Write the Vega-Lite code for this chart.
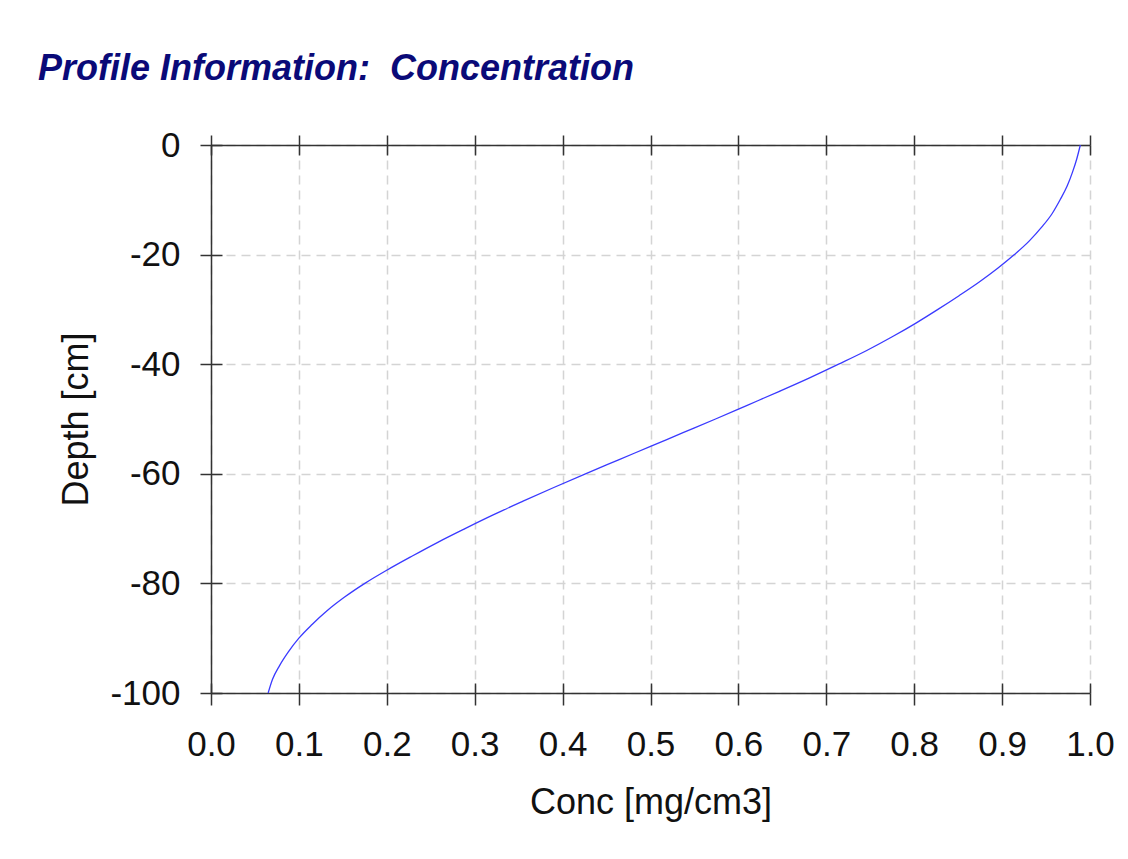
{
  "$schema": "https://vega.github.io/schema/vega-lite/v6.json",
  "autosize": "none",
  "width": 879,
  "height": 548,
  "padding": {"left": 211, "top": 145, "right": 38, "bottom": 166},
  "background": "white",
  "title": {
    "text": "Profile Information:\u00a0\u00a0Concentration",
    "anchor": "start",
    "frame": "group",
    "orient": "top",
    "dx": -173,
    "offset": 12,
    "baseline": "alphabetic",
    "font": "Liberation Sans",
    "fontSize": 36,
    "fontStyle": "italic",
    "fontWeight": "bold",
    "color": "#0a0a78"
  },
  "data": {
    "values": [
      {"depth": 0, "conc": 0.989},
      {"depth": -2.5, "conc": 0.985},
      {"depth": -5, "conc": 0.98},
      {"depth": -7.5, "conc": 0.974},
      {"depth": -10, "conc": 0.966},
      {"depth": -12.5, "conc": 0.957},
      {"depth": -15, "conc": 0.945},
      {"depth": -17.5, "conc": 0.931},
      {"depth": -20, "conc": 0.914},
      {"depth": -22.5, "conc": 0.895},
      {"depth": -25, "conc": 0.874},
      {"depth": -27.5, "conc": 0.851},
      {"depth": -30, "conc": 0.827},
      {"depth": -32.5, "conc": 0.802},
      {"depth": -35, "conc": 0.775},
      {"depth": -37.5, "conc": 0.746},
      {"depth": -40, "conc": 0.714},
      {"depth": -42.5, "conc": 0.681},
      {"depth": -45, "conc": 0.646},
      {"depth": -47.5, "conc": 0.61},
      {"depth": -50, "conc": 0.574},
      {"depth": -52.5, "conc": 0.537},
      {"depth": -55, "conc": 0.5},
      {"depth": -57.5, "conc": 0.463},
      {"depth": -60, "conc": 0.426},
      {"depth": -62.5, "conc": 0.39},
      {"depth": -65, "conc": 0.355},
      {"depth": -67.5, "conc": 0.321},
      {"depth": -70, "conc": 0.289},
      {"depth": -72.5, "conc": 0.258},
      {"depth": -75, "conc": 0.229},
      {"depth": -77.5, "conc": 0.201},
      {"depth": -80, "conc": 0.175},
      {"depth": -82.5, "conc": 0.152},
      {"depth": -85, "conc": 0.132},
      {"depth": -87.5, "conc": 0.115},
      {"depth": -90, "conc": 0.1},
      {"depth": -92.5, "conc": 0.088},
      {"depth": -95, "conc": 0.078},
      {"depth": -97.5, "conc": 0.07},
      {"depth": -100, "conc": 0.065}
    ]
  },
  "config": {
    "view": {"stroke": null},
    "axis": {
      "labelFont": "Liberation Sans",
      "titleFont": "Liberation Sans",
      "labelFontSize": 35,
      "titleFontSize": 36,
      "titleFontWeight": "normal",
      "labelColor": "#111111",
      "titleColor": "#111111",
      "domainColor": "#333333",
      "domainWidth": 1.5,
      "tickColor": "#333333",
      "tickWidth": 1.5,
      "gridColor": "#d4d4d4",
      "gridDash": [9, 6],
      "gridWidth": 1.5
    }
  },
  "resolve": {"axis": {"x": "independent", "y": "independent"}},
  "layer": [
    {
      "mark": {"type": "line", "color": "#3a3aff", "strokeWidth": 1.3, "interpolate": "monotone"},
      "encoding": {
        "x": {
          "field": "conc", "type": "quantitative",
          "scale": {"domain": [0, 1], "nice": false, "zero": false},
          "axis": {
            "orient": "bottom",
            "title": "Conc [mg/cm3]",
            "values": [0, 0.1, 0.2, 0.3, 0.4, 0.5, 0.6, 0.7, 0.8, 0.9, 1.0],
            "format": ".1f",
            "grid": true,
            "tickSize": 12,
            "labelPadding": 22,
            "titlePadding": 23,
            "labelFlush": false,
            "labelOverlap": false
          }
        },
        "y": {
          "field": "depth", "type": "quantitative",
          "scale": {"domain": [-100, 0], "nice": false, "zero": false},
          "axis": {
            "orient": "left",
            "title": "Depth [cm]",
            "values": [-100, -80, -60, -40, -20, 0],
            "labelExpr": "'' + datum.value",
            "grid": true,
            "tickSize": 11,
            "labelPadding": 20,
            "titlePadding": 14,
            "labelFlush": false,
            "labelOverlap": false
          }
        },
        "order": {"field": "depth", "sort": "ascending"}
      }
    },
    {
      "mark": {"type": "line", "strokeOpacity": 0},
      "encoding": {
        "x": {
          "field": "conc", "type": "quantitative",
          "axis": {
            "orient": "bottom", "title": null, "labels": false, "domain": false, "grid": false,
            "values": [0, 0.1, 0.2, 0.3, 0.4, 0.5, 0.6, 0.7, 0.8, 0.9, 1.0],
            "tickSize": -10
          }
        },
        "y": {
          "field": "depth", "type": "quantitative",
          "axis": {
            "orient": "left", "title": null, "labels": false, "domain": false, "grid": false,
            "values": [-100, -80, -60, -40, -20, 0],
            "tickSize": -11
          }
        }
      }
    },
    {
      "mark": {"type": "line", "strokeOpacity": 0},
      "encoding": {
        "x": {
          "field": "conc", "type": "quantitative",
          "axis": {
            "orient": "top", "title": null, "labels": false, "domain": true, "grid": false,
            "values": [0, 0.1, 0.2, 0.3, 0.4, 0.5, 0.6, 0.7, 0.8, 0.9, 1.0],
            "tickSize": 10
          }
        },
        "y": {"field": "depth", "type": "quantitative", "axis": null}
      }
    },
    {
      "mark": {"type": "line", "strokeOpacity": 0},
      "encoding": {
        "x": {
          "field": "conc", "type": "quantitative",
          "axis": {
            "orient": "top", "title": null, "labels": false, "domain": false, "grid": false,
            "values": [0, 0.1, 0.2, 0.3, 0.4, 0.5, 0.6, 0.7, 0.8, 0.9, 1.0],
            "tickSize": -10
          }
        },
        "y": {"field": "depth", "type": "quantitative", "axis": null}
      }
    }
  ]
}
